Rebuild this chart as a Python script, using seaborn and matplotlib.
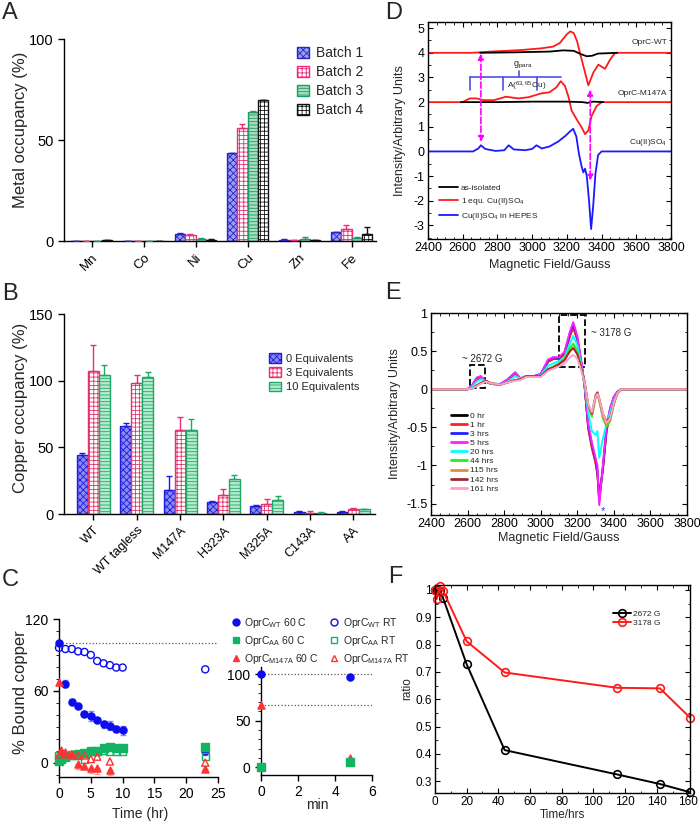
import numpy as np
import pandas as pd
import matplotlib
matplotlib.use('Agg')
import matplotlib.pyplot as plt
import seaborn as sns
from matplotlib.lines import Line2D
from matplotlib.patches import Rectangle
from matplotlib.ticker import MultipleLocator

sns.set_style('ticks')
plt.rcParams['font.family'] = ['Liberation Sans', 'DejaVu Sans']
plt.rcParams['mathtext.default'] = 'regular'
plt.rcParams['axes.unicode_minus'] = False
plt.rcParams['hatch.linewidth'] = 0.6

# ---------------- data ----------------
# A: metal occupancy per batch
METALS = ['Mn', 'Co', 'Ni', 'Cu', 'Zn', 'Fe']
BATCHES = ['Batch 1', 'Batch 2', 'Batch 3', 'Batch 4']
BATCH1 = [0.0, 0.0, 3.5, 43.5, 0.5, 4.3]
BATCH2 = [0.2, 0.1, 3.0, 56.0, 0.3, 6.0]
BATCH3 = [0.0, 0.0, 1.2, 64.0, 1.0, 1.5]
BATCH4 = [0.3, 0.0, 0.5, 70.0, 0.4, 3.5]
BATCH1_ERR = [0, 0, 0.4, 0, 0.3, 0]
BATCH2_ERR = [0, 0, 0.3, 2.0, 0.2, 2.0]
BATCH3_ERR = [0, 0, 0.2, 0.5, 1.2, 0.3]
BATCH4_ERR = [0, 0, 0.3, 0, 0, 3.5]

# B: copper occupancy vs equivalents
MUTANTS = ['WT', 'WT tagless', 'M147A', 'H323A', 'M325A', 'C143A', 'AA']
EQUIVS = ['0 Equivalents', '3 Equivalents', '10 Equivalents']
EQ0 = [44.5, 66.0, 18.0, 9.0, 6.0, 1.5, 1.5]
EQ3 = [107.0, 98.5, 63.0, 14.5, 7.5, 1.0, 3.5]
EQ10 = [104.0, 102.5, 63.0, 26.0, 10.5, 1.0, 3.5]
EQ0_ERR = [1.5, 2.5, 10.5, 1.0, 0.5, 0.4, 0.4]
EQ3_ERR = [20.0, 6.0, 10.0, 4.5, 3.5, 1.5, 1.0]
EQ10_ERR = [8.0, 4.0, 8.5, 3.5, 3.0, 0.3, 0.5]

# C: % bound copper vs time (hr)
WT60_T = [0, 1, 2, 3, 4, 5, 6, 7, 8, 9, 10, 23]
WT60_Y = [100, 66, 51, 47, 41, 39, 36, 32, 31, 28, 27, 10]
WT60_E = [1.5, 3, 2, 1.5, 2, 4, 1.5, 3, 3.5, 2.5, 3.5, 4]
WTRT_T = [0, 1, 2, 3, 4, 5, 6, 7, 8, 9, 10, 23]
WTRT_Y = [96, 95, 95, 93, 92.5, 90, 85, 83, 81.5, 79.5, 79.5, 78]
AA60_T = [0, 0.25, 1, 2, 3, 4, 5, 6, 7, 8, 9, 10, 23]
AA60_Y = [1, 3, 5, 6, 7, 8, 10, 10, 12, 13, 12.5, 12, 13]
AART_T = [0, 1, 2, 3, 4, 5, 6, 7, 8, 9, 10, 23]
AART_Y = [6, 5, 6, 6, 2.5, 9, 9, 10, 9.5, 9.5, 9, 5]
M60_T = [0, 0.25, 1, 2, 3, 4, 5, 6, 8, 23]
M60_Y = [67, 11, 9, 7, -1.5, -3, -4.5, -4.5, -6, -5]
M60_E = [1, 1, 1, 1, 4, 2, 4, 5, 4, 1]
MRT_T = [0, 1, 2, 3, 4, 5, 6, 8, 23]
MRT_Y = [7, 7, 7, 6, 6, 3, 5, 1, 0]
# C inset: minutes
MIN_T = [0, 4.8]
WT60_MIN = [100, 97]
M60_MIN = [67, 10]
AA60_MIN = [0, 5]

# D: EPR spectra
D_WT_RED_X = [2400, 2650, 2700, 2760, 2850, 2950, 3050, 3120, 3160, 3200, 3220, 3240,
              3260, 3277, 3296, 3324, 3353, 3382, 3420, 3449, 3478, 3800]
D_WT_RED_Y = [4.0, 4.0, 4.02, 4.05, 4.08, 4.12, 4.18, 4.25, 4.4, 4.75, 4.87, 4.8,
              4.45, 3.95, 3.45, 2.68, 3.2, 3.52, 3.35, 3.72, 4.0, 4.0]
D_WT_BLK_X = [2700, 2900, 3100, 3180, 3240, 3280, 3315, 3345, 3380, 3420, 3490]
D_WT_BLK_Y = [4.0, 4.02, 4.05, 4.1, 4.08, 3.95, 3.86, 3.88, 3.97, 3.98, 4.0]
D_M_RED_X = [2400, 2600, 2640, 2680, 2720, 2780, 2850, 2920, 2980, 3050, 3100, 3140,
             3165, 3190, 3210, 3228, 3257, 3286, 3305, 3324, 3343, 3372, 3401, 3800]
D_M_RED_Y = [2.0, 2.0, 2.15, 2.15, 2.08, 2.08, 2.22, 2.15, 2.2, 2.35, 2.4, 2.6,
             2.85, 2.65, 2.2, 1.65, 1.3, 0.97, 0.7, 0.85, 1.44, 1.84, 2.0, 2.0]
D_M_BLK_X = [2590, 2800, 3000, 3200, 3290, 3320, 3350, 3410]
D_M_BLK_Y = [2.0, 2.0, 2.02, 2.02, 2.0, 1.97, 2.02, 2.0]
D_CU_X = [2400, 2660, 2690, 2705, 2730, 2790, 2840, 2865, 2895, 2960, 3000, 3025, 3055,
          3100, 3150, 3190, 3220, 3237, 3255, 3270, 3285, 3295, 3305, 3315, 3328, 3340,
          3352, 3365, 3380, 3400, 3800]
D_CU_Y = [0, 0.0, 0.12, 0.25, 0.1, 0.02, 0.05, 0.25, 0.08, 0.05, 0.1, 0.25, 0.12,
          0.2, 0.4, 0.62, 0.82, 0.92, 0.6, -0.1, -0.6, -0.85, -0.7, -1.0, -2.0, -3.15,
          -2.2, -0.9, -0.15, 0.0, 0.0]

# E: spectra over time
E_FIELD = [2400, 2600, 2625, 2650, 2672, 2700, 2730, 2780, 2820, 2860, 2890, 2920, 2960,
           3000, 3040, 3070, 3100, 3130, 3160, 3178, 3200, 3220, 3240, 3260, 3280, 3300,
           3310, 3320, 3340, 3360, 3380, 3400, 3420, 3440, 3460, 3800]
E_LABELS = ['0 hr', '1 hr', '3 hrs', '5 hrs', '20 hrs', '44 hrs', '115 hrs', '142 hrs', '161 hrs']
E_0 = [0, 0, 0.04, 0.13, 0.16, 0.10, 0.07, 0.06, 0.12, 0.21, 0.14, 0.17, 0.17, 0.19, 0.36, 0.40,
       0.40, 0.46, 0.70, 0.82, 0.66, 0.38, 0.05, -0.50, -0.75, -0.95, -1.10, -1.40, -1.05,
       -0.55, -0.28, -0.12, -0.04, 0, 0, 0]
E_1 = [0, 0, 0.04, 0.13, 0.16, 0.10, 0.07, 0.06, 0.12, 0.21, 0.14, 0.17, 0.17, 0.19, 0.36, 0.40,
       0.40, 0.46, 0.70, 0.81, 0.65, 0.37, 0.04, -0.52, -0.78, -0.97, -1.12, -1.45, -1.05,
       -0.55, -0.28, -0.12, -0.04, 0, 0, 0]
E_3 = [0, 0, 0.05, 0.15, 0.17, 0.10, 0.07, 0.07, 0.13, 0.22, 0.14, 0.17, 0.17, 0.20, 0.38, 0.42,
       0.41, 0.48, 0.74, 0.86, 0.68, 0.38, 0.05, -0.48, -0.72, -0.92, -1.05, -1.48, -1.02,
       -0.50, -0.25, -0.10, -0.03, 0, 0, 0]
E_5 = [0, 0, 0.05, 0.15, 0.17, 0.10, 0.07, 0.07, 0.13, 0.22, 0.14, 0.17, 0.17, 0.20, 0.39, 0.42,
       0.42, 0.49, 0.76, 0.88, 0.70, 0.40, 0.06, -0.45, -0.70, -0.90, -1.00, -1.52, -1.00,
       -0.48, -0.24, -0.10, -0.03, 0, 0, 0]
E_20 = [0, 0, 0.03, 0.10, 0.13, 0.11, 0.07, 0.06, 0.10, 0.17, 0.14, 0.17, 0.17, 0.18, 0.31, 0.34,
        0.37, 0.42, 0.60, 0.70, 0.58, 0.33, 0.06, -0.30, -0.55, -0.60, -0.55, -0.90, -0.65,
        -0.45, -0.30, -0.15, -0.05, 0, 0, 0]
E_44 = [0, 0, 0.01, 0.05, 0.08, 0.11, 0.08, 0.06, 0.09, 0.12, 0.13, 0.17, 0.17, 0.17, 0.27, 0.30,
        0.34, 0.40, 0.54, 0.60, 0.50, 0.30, 0.10, -0.22, -0.36, -0.12, -0.06, -0.15, -0.38,
        -0.49, -0.42, -0.20, -0.06, 0, 0, 0]
E_115 = [0, 0, 0.01, 0.05, 0.08, 0.11, 0.08, 0.06, 0.09, 0.12, 0.13, 0.17, 0.17, 0.17, 0.26, 0.29,
         0.33, 0.39, 0.50, 0.55, 0.47, 0.29, 0.10, -0.22, -0.34, -0.10, -0.05, -0.14, -0.36,
         -0.47, -0.40, -0.19, -0.05, 0, 0, 0]
E_142 = [0, 0, 0.01, 0.05, 0.08, 0.11, 0.08, 0.06, 0.09, 0.12, 0.13, 0.17, 0.17, 0.17, 0.26, 0.29,
         0.33, 0.38, 0.50, 0.54, 0.46, 0.29, 0.10, -0.20, -0.32, -0.08, -0.04, -0.12, -0.32,
         -0.42, -0.37, -0.18, -0.05, 0, 0, 0]
E_161 = [0, 0, 0.01, 0.04, 0.07, 0.10, 0.08, 0.06, 0.09, 0.11, 0.12, 0.16, 0.16, 0.16, 0.24, 0.27,
         0.30, 0.34, 0.42, 0.45, 0.40, 0.26, 0.09, -0.20, -0.30, -0.10, -0.06, -0.12, -0.32,
         -0.44, -0.38, -0.18, -0.05, 0, 0, 0]

# F: peak ratios
F_TIME = [0, 1, 3, 5, 20, 44, 115, 142, 161]
F_2672 = [1.0, 1.0, 0.995, 0.972, 0.728, 0.414, 0.325, 0.29, 0.26]
F_3178 = [1.0, 0.966, 1.014, 0.998, 0.812, 0.698, 0.642, 0.64, 0.533]

# ---------------- figure ----------------
fig = plt.figure(figsize=(7, 8.24), dpi=100)


def style_bars(ax, styles, errs):
    conts = list(ax.containers)
    for cont, (face, edge, hatch), err in zip(conts, styles, errs):
        xs, ys = [], []
        for p in cont.patches:
            p.set_facecolor(face)
            p.set_edgecolor(edge)
            p.set_hatch(hatch)
            p.set_linewidth(1.0)
            xs.append(p.get_x() + p.get_width() / 2)
            ys.append(p.get_height())
        ax.errorbar(xs, ys, yerr=[np.zeros(len(err)), err], fmt='none', ecolor=edge,
                    elinewidth=1, capsize=2.5, capthick=1, zorder=3)
    return conts


def prism_axes(ax):
    sns.despine(ax=ax)
    for s in ['left', 'bottom']:
        ax.spines[s].set_color('black')
        ax.spines[s].set_linewidth(1.0)
    ax.tick_params(colors='black', width=1.0, length=4)


def box_axes(ax, size=9):
    for s in ax.spines.values():
        s.set_color('black')
        s.set_linewidth(1.0)
    ax.tick_params(which='both', direction='in', top=True, right=True, labelsize=size,
                   colors='black', pad=2.5)
    ax.tick_params(which='major', length=3.5)
    ax.tick_params(which='minor', length=1.8)


# ---- A ----
axA = fig.add_axes([0.0914, 0.7075, 0.4457, 0.2451])
dfA = pd.DataFrame({'metal': METALS * 4,
                    'batch': np.repeat(BATCHES, len(METALS)),
                    'value': BATCH1 + BATCH2 + BATCH3 + BATCH4})
STYLE_A = [('#9c9cf0', '#2424c8', 'xxxxx'), ('white', '#f0287a', '++++'),
           ('#a6dcc0', '#1f9a60', '-----'), ('white', '#111111', '++++')]
sns.barplot(data=dfA, x='metal', y='value', hue='batch', errorbar=None, width=0.8,
            palette=[s[0] for s in STYLE_A], legend=False, ax=axA)
contsA = style_bars(axA, STYLE_A, [BATCH1_ERR, BATCH2_ERR, BATCH3_ERR, BATCH4_ERR])
prism_axes(axA)
axA.set_xlim(-0.53, 5.47)
axA.set_ylim(0, 100)
axA.set_yticks([0, 50, 100])
axA.tick_params(axis='y', labelsize=10.5)
axA.tick_params(axis='x', labelsize=9.5)
plt.setp(axA.get_xticklabels(), rotation=45, ha='right', rotation_mode='anchor')
axA.set_xlabel('')
axA.set_ylabel('Metal occupancy (%)', fontsize=12)
axA.yaxis.set_label_coords(-0.115, 0.55)
fig.legend([c.patches[0] for c in contsA], BATCHES, loc='upper left',
           bbox_to_anchor=(0.414, 0.952), frameon=False, fontsize=10, borderpad=0,
           handlelength=0.9, handleheight=0.9, handletextpad=0.5, labelspacing=0.35)

# ---- B ----
axB = fig.add_axes([0.0914, 0.3762, 0.4443, 0.2427])
dfB = pd.DataFrame({'mutant': MUTANTS * 3,
                    'equiv': np.repeat(EQUIVS, len(MUTANTS)),
                    'value': EQ0 + EQ3 + EQ10})
STYLE_B = [('#8a8af0', '#1c1ce0', 'xxxxx'), ('white', '#e8306e', '++++'),
           ('#b8ead0', '#1fa864', '-----')]
sns.barplot(data=dfB, x='mutant', y='value', hue='equiv', errorbar=None, width=0.76,
            palette=[s[0] for s in STYLE_B], legend=False, ax=axB)
contsB = style_bars(axB, STYLE_B, [EQ0_ERR, EQ3_ERR, EQ10_ERR])
prism_axes(axB)
axB.set_xlim(-0.68, 6.5)
axB.set_ylim(0, 150)
axB.set_yticks([0, 50, 100, 150])
axB.tick_params(axis='y', labelsize=10.5)
axB.tick_params(axis='x', labelsize=9)
plt.setp(axB.get_xticklabels(), rotation=45, ha='right', rotation_mode='anchor')
axB.set_xlabel('')
axB.set_ylabel('Copper occupancy (%)', fontsize=12)
axB.yaxis.set_label_coords(-0.115, 0.53)
fig.legend([c.patches[0] for c in contsB], EQUIVS, loc='upper left',
           bbox_to_anchor=(0.377, 0.578), frameon=False, fontsize=8, borderpad=0,
           handlelength=1.0, handleheight=1.0, handletextpad=0.5, labelspacing=0.3)

# ---- C ----
BLUE, GREEN, RED = '#0c0cee', '#12b463', '#ff3333'
axC = fig.add_axes([0.0843, 0.0570, 0.2271, 0.1917])
series_C = [
    (WT60_T, WT60_Y, WT60_E, 'o', BLUE, True),
    (WTRT_T, WTRT_Y, None, 'o', BLUE, False),
    (AA60_T, AA60_Y, None, 's', GREEN, True),
    (AART_T, AART_Y, None, 's', GREEN, False),
    (M60_T, M60_Y, M60_E, '^', RED, True),
    (MRT_T, MRT_Y, None, '^', RED, False),
]
axC.axhline(100, color='0.35', ls=':', lw=0.9)
for t, y, e, mk, col, filled in series_C:
    if e is not None:
        if col == RED:
            yerr = [e, np.zeros(len(e))]
        else:
            yerr = e
        axC.errorbar(t, y, yerr=yerr, fmt='none', ecolor=col, alpha=0.45, elinewidth=1,
                     capsize=2, zorder=2)
    sns.scatterplot(x=t, y=y, marker=mk, color=col, s=26,
                    facecolor=col if filled else 'none', edgecolor=col, linewidth=1.0,
                    clip_on=False, zorder=3, ax=axC)
prism_axes(axC)
axC.set_xlim(0, 25)
axC.set_ylim(-12, 120)
axC.set_xticks([0, 5, 10, 15, 20, 25])
axC.set_yticks([0, 60, 120])
axC.yaxis.set_minor_locator(MultipleLocator(10))
axC.tick_params(which='minor', length=2, color='black')
axC.tick_params(labelsize=10)
axC.set_xlabel('Time (hr)', fontsize=10)
axC.set_ylabel('% Bound copper', fontsize=12)
axC.xaxis.set_label_coords(0.51, -0.19)
axC.yaxis.set_label_coords(-0.195, 0.54)

axC2 = fig.add_axes([0.3729, 0.0595, 0.1586, 0.1311])
axC2.axhline(100, color='0.35', ls=':', lw=0.9)
axC2.axhline(67, color='0.35', ls=':', lw=0.9)
for y, mk, col in [(WT60_MIN, 'o', BLUE), (M60_MIN, '^', RED), (AA60_MIN, 's', GREEN)]:
    sns.scatterplot(x=MIN_T, y=y, marker=mk, color=col, s=26, edgecolor=col, linewidth=1.0,
                    clip_on=False, zorder=3, ax=axC2)
prism_axes(axC2)
axC2.set_xlim(0, 6)
axC2.set_ylim(-8.5, 108)
axC2.set_xticks([0, 2, 4, 6])
axC2.set_yticks([0, 50, 100])
axC2.yaxis.set_minor_locator(MultipleLocator(10))
axC2.tick_params(which='minor', length=2, color='black')
axC2.tick_params(labelsize=10)
axC2.set_xlabel('min', fontsize=10)
axC2.xaxis.set_label_coords(0.51, -0.21)

handles_C = [Line2D([], [], ls='', marker=mk, color=col, markersize=5,
                    markerfacecolor=col if filled else 'none')
             for _, _, _, mk, col, filled in series_C]
handles_C = handles_C[0::2] + handles_C[1::2]
labels_C = ['OprC$_{WT}$ 60 C', 'OprC$_{AA}$ 60 C', 'OprC$_{M147A}$ 60 C',
            'OprC$_{WT}$ RT', 'OprC$_{AA}$ RT', 'OprC$_{M147A}$ RT']
fig.legend(handles_C, labels_C, loc='upper left', bbox_to_anchor=(0.322, 0.259), ncol=2,
           frameon=False, fontsize=7.5, borderpad=0, handlelength=1.0, handletextpad=0.3,
           labelspacing=0.4, columnspacing=1.0)

# ---- D ----
axD = fig.add_axes([0.6114, 0.7100, 0.3471, 0.2633])
for xs, ys, col in [(D_WT_RED_X, D_WT_RED_Y, '#ff1a1a'), (D_WT_BLK_X, D_WT_BLK_Y, 'black'),
                    (D_M_RED_X, D_M_RED_Y, '#ff1a1a'), (D_M_BLK_X, D_M_BLK_Y, 'black'),
                    (D_CU_X, D_CU_Y, '#1a1aff')]:
    sns.lineplot(x=xs, y=ys, color=col, lw=1.3, estimator=None, errorbar=None, ax=axD)
box_axes(axD)
axD.set_xlim(2400, 3800)
axD.set_ylim(-3.55, 5.25)
axD.set_xticks(range(2400, 3801, 200))
axD.set_yticks(range(-3, 6))
axD.xaxis.set_minor_locator(MultipleLocator(50))
axD.yaxis.set_minor_locator(MultipleLocator(0.5))
axD.set_xlabel('Magnetic Field/Gauss', fontsize=9)
axD.set_ylabel('Intensity/Arbitrary Units', fontsize=9)
axD.xaxis.set_label_coords(0.5, -0.092)
axD.yaxis.set_label_coords(-0.09, 0.5)
arrow_kw = dict(arrowstyle='<|-|>', color='#ff00ff', ls='--', lw=1.2, mutation_scale=8)
axD.annotate('', xy=(2705, 0.27), xytext=(2705, 4.08), arrowprops=arrow_kw)
axD.annotate('', xy=(3335, -1.3), xytext=(3335, 2.62), arrowprops=arrow_kw)
STICK = '#5050e0'
axD.plot([2643, 3165], [3.0, 3.0], color=STICK, lw=1.2)
axD.plot([2927, 2927], [3.0, 3.27], color=STICK, lw=1.2)
for xv in [2643, 2831, 3031]:
    axD.plot([xv, xv], [3.0, 2.48], color=STICK, lw=1.2)
axD.text(2945, 3.5, 'g$_{para}$', fontsize=6.5, ha='center', va='center')
axD.text(2855, 2.62, 'A($^{63,65}$Cu)', fontsize=6, ha='left', va='center')
axD.text(3780, 4.4, 'OprC-WT', fontsize=6, ha='right', va='center')
axD.text(3780, 2.33, 'OprC-M147A', fontsize=6, ha='right', va='center')
axD.text(3780, 0.38, 'Cu(II)SO$_4$', fontsize=6, ha='right', va='center')
handles_D = [Line2D([], [], color='black', lw=1.3), Line2D([], [], color='#ff1a1a', lw=1.3),
             Line2D([], [], color='#1a1aff', lw=1.3)]
axD.legend(handles_D, ['as-isolated', '1 equ. Cu(II)SO$_4$', 'Cu(II)SO$_4$ in HEPES'],
           loc='upper left', bbox_to_anchor=(0.03, 0.27), frameon=False, fontsize=6,
           handlelength=2.2, handletextpad=0.4, labelspacing=0.45, borderpad=0)

# ---- E ----
axE = fig.add_axes([0.6157, 0.3750, 0.3657, 0.2451])
E_COLORS = ['black', '#ff2020', '#2020ff', '#ff20ff', '#00ffff', '#20f020',
            '#e08c3c', '#a02830', '#ffa0c8']
E_SERIES = [E_0, E_1, E_3, E_5, E_20, E_44, E_115, E_142, E_161]
for ys, col, lab in zip(E_SERIES, E_COLORS, E_LABELS):
    sns.lineplot(x=E_FIELD, y=ys, color=col, lw=1.4, estimator=None, errorbar=None,
                 label=lab, ax=axE)
box_axes(axE)
axE.set_xlim(2400, 3800)
axE.set_ylim(-1.65, 1.0)
axE.set_xticks(range(2400, 3801, 200))
axE.set_yticks([-1.5, -1, -0.5, 0, 0.5, 1], ['-1.5', '-1', '-0.5', '0', '0.5', '1'])
axE.xaxis.set_minor_locator(MultipleLocator(50))
axE.yaxis.set_minor_locator(MultipleLocator(0.25))
axE.set_xlabel('Magnetic Field/Gauss', fontsize=9)
axE.set_ylabel('Intensity/Arbitrary Units', fontsize=9)
axE.xaxis.set_label_coords(0.5, -0.085)
axE.yaxis.set_label_coords(-0.118, 0.5)
axE.add_patch(Rectangle((2615, 0.01), 83, 0.31, fill=False, ec='black', ls='--', lw=1.3))
axE.add_patch(Rectangle((3102, 0.29), 138, 0.69, fill=False, ec='black', ls='--', lw=1.3))
axE.text(2680, 0.4, '~ 2672 G', fontsize=7, ha='center', va='center')
axE.text(3276, 0.74, '~ 3178 G', fontsize=7, ha='left', va='center')
axE.text(3340, -1.6, '*', color='#3030ff', fontsize=8, ha='center', va='center')
axE.legend(loc='upper left', bbox_to_anchor=(0.06, 0.53), frameon=False, fontsize=6,
           handlelength=2.0, handletextpad=0.3, labelspacing=0.15, borderpad=0)
for ln in axE.get_legend().get_lines():
    ln.set_linewidth(2.0)

# ---- F ----
axF = fig.add_axes([0.6214, 0.0376, 0.3643, 0.2524])
for ys, col, lab in [(F_2672, 'black', '2672 G'), (F_3178, '#ff1a1a', '3178 G')]:
    sns.lineplot(x=F_TIME, y=ys, color=col, lw=1.4, marker='o', markersize=5.5,
                 markerfacecolor='none', markeredgecolor=col, markeredgewidth=1.2,
                 estimator=None, errorbar=None, label=lab, clip_on=False, ax=axF)
box_axes(axF, size=8.5)
axF.set_xlim(0, 161)
axF.set_ylim(0.257, 1.018)
axF.set_xticks(range(0, 161, 20))
axF.set_yticks([0.3, 0.4, 0.5, 0.6, 0.7, 0.8, 0.9, 1.0],
               ['0.3', '0.4', '0.5', '0.6', '0.7', '0.8', '0.9', '1'])
axF.xaxis.set_minor_locator(MultipleLocator(10))
axF.yaxis.set_minor_locator(MultipleLocator(0.05))
axF.set_xlabel('Time/hrs', fontsize=8.5)
axF.set_ylabel('ratio', fontsize=8.5)
axF.xaxis.set_label_coords(0.5, -0.078)
axF.yaxis.set_label_coords(-0.086, 0.5)
axF.legend(loc='upper right', bbox_to_anchor=(0.9, 0.9), frameon=False, fontsize=6,
           handlelength=2.2, handletextpad=0.2, labelspacing=0.2, borderpad=0)

# ---- panel letters ----
for x, y, s in [(0.003, 0.998, 'A'), (0.003, 0.657, 'B'), (0.003, 0.309, 'C'),
                (0.55, 0.998, 'D'), (0.55, 0.658, 'E'), (0.554, 0.313, 'F')]:
    fig.text(x, y, s, fontsize=17, ha='left', va='top')

fig.savefig('out.png', dpi=100)
